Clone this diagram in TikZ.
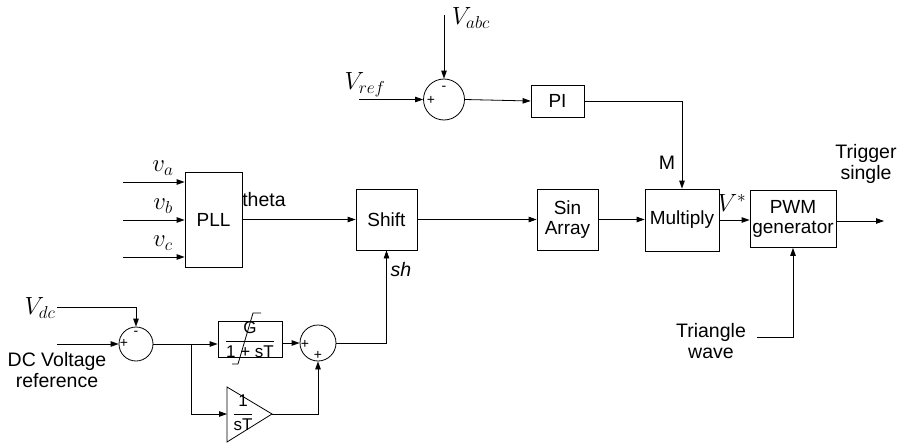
\documentclass[tikz,border=0pt]{standalone}
\usepackage{fontspec}
\setmainfont{Liberation Sans}
\usetikzlibrary{arrows.meta, positioning}

\begin{document}
\begin{tikzpicture}[
    x=1pt, y=-1pt,
    line width=0.8pt,
    block/.style={rectangle, draw, inner sep=1pt, align=center, font=\fontsize{19}{20.5}\selectfont},
    sum/.style={circle, draw, inner sep=0pt},
    sign/.style={font=\fontsize{14}{14}\selectfont, inner sep=0pt},
    sig/.style={font=\fontsize{23}{25}\selectfont, inner sep=0pt},
    txt/.style={font=\fontsize{19.5}{21.5}\selectfont, align=center, inner sep=0pt},
    arrow/.style={-{Triangle[length=8pt, width=5.5pt]}}
]
\useasboundingbox (0,0) rectangle (906,447);

% Blocks
\node[block, minimum width=53pt, minimum height=32pt] (pi) at (557.5,101) {PI};
\node[block, minimum width=57pt, minimum height=95pt] (pll) at (213.5,219.5) {PLL};
\node[block, minimum width=61pt, minimum height=61pt] (shift) at (386.5,219.5) {Shift};
\node[block, minimum width=61pt, minimum height=61pt] (sin) at (567.5,219.5) {Sin\\Array};
\node[block, minimum width=74pt, minimum height=62pt] (mult) at (682,220) {Multiply};
\node[block, minimum width=86pt, minimum height=57pt] (pwm) at (793,219) {PWM\\generator};
\node[block, minimum width=64pt, minimum height=35pt, inner sep=0pt, font=\fontsize{17}{17}\selectfont] (gblk) at (250,339.5) {$\displaystyle\frac{\mbox{G}}{\mbox{1 + sT}}$};

% Summing junctions
\node[sum, minimum size=41pt] (sum1) at (444,99.5) {};
\node[sum, minimum size=34pt] (sum2) at (136,344) {};
\node[sum, minimum size=36pt] (sum3) at (318,343) {};
\node[sign] at (431,100) {+};
\node[sign] at (444,88) {-};
\node[sign] at (124,343) {+};
\node[sign] at (136,333) {-};
\node[sign] at (305,344) {+};
\node[sign] at (318,355) {+};

% Integrator gain
\coordinate (gainin) at (227,414);
\coordinate (gainout) at (272,414);
\draw (227,387) -- (gainout) -- (227,442) -- cycle;
\node[txt, font=\fontsize{17}{17}\selectfont] (gain) at (243,413) {$\displaystyle\frac{\mbox{1}}{\mbox{sT}}$};

% Limiter
\draw (232,364) -- (238,364) -- (253,313) -- (261,313);

% Signals
\coordinate (vabc) at (444,15);
\coordinate (vref) at (359,99.5);
\coordinate (ina) at (123,182);
\coordinate (inb) at (123,220);
\coordinate (inc) at (123,257);
\coordinate (vdc) at (57,307);
\coordinate (dcref) at (57,344);
\coordinate (br) at (191,344);
\coordinate (out) at (884,221);
\coordinate (tri) at (757,337);

\node[sig] (vabclbl) at (471,18) {$V_{abc}$};
\node[sig] (vreflbl) at (365,85) {$V_{ref}$};
\node[sig] (vdclbl) at (40,308) {$V_{dc}$};
\node[sig] (valbl) at (163,168) {$v_a$};
\node[sig] (vblbl) at (163,206) {$v_b$};
\node[sig] (vclbl) at (163,243) {$v_c$};
\node[sig] (vstar) at (732,203) {$V^*$};
\node[txt] (theta) at (264,200) {theta};
\node[txt] (mlbl) at (667,163) {M};
\node[txt] (shlbl) at (401,270) {\itshape sh};
\node[txt] (trig) at (866,164) {Trigger\\single};
\node[txt] (triwave) at (711,341) {Triangle\\wave};
\node[txt] (dclbl) at (57,370) {DC Voltage\\reference};

% Arrows
\draw[arrow] (vabc) -- (sum1.north);
\draw[arrow] (vref) -- (sum1.west);
\draw[arrow] (sum1.east) -- (pi.west);
\draw[arrow] (pi.east) -| (mult.north);
\foreach \p in {ina, inb, inc}
    \draw[arrow] (\p) -- (\p -| pll.west);
\draw[arrow] (pll.east) -- (pll.east -| shift.west);
\draw[arrow] (shift.east) -- (sin.west);
\draw[arrow] (sin.east) -- (sin.east -| mult.west);
\draw[arrow] (mult.east) -- (mult.east -| pwm.west);
\draw[arrow] (pwm.east |- out) -- (out);
\draw[arrow] (tri) -| (pwm.south);
\draw[arrow] (vdc) -| (sum2.north);
\draw[arrow] (dcref) -- (sum2.west);
\draw[arrow] (sum2.east) -- (sum2.east -| gblk.west);
\draw[arrow] (br) |- (gainin);
\draw[arrow] (gblk.east |- sum3.west) -- (sum3.west);
\draw[arrow] (gainout) -| (sum3.south);
\draw[arrow] (sum3.east) -| (shift.south);

\end{tikzpicture}
\end{document}
